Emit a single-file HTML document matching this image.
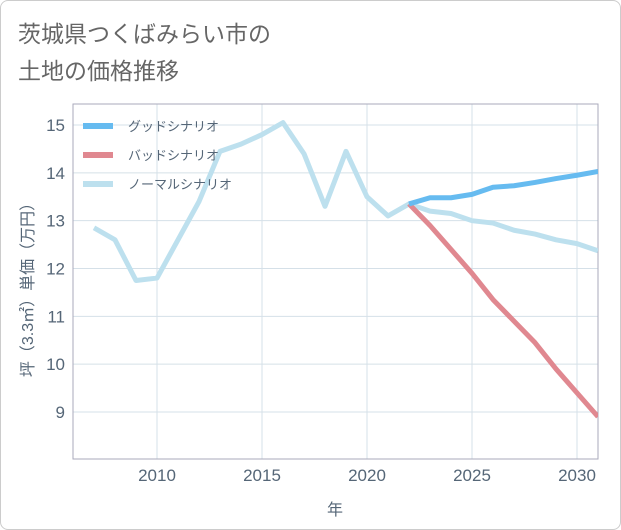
<!DOCTYPE html>
<html><head><meta charset="utf-8"><style>
body{margin:0;background:#fff;}
.wrap{position:relative;width:619px;height:528px;border:1px solid #ccc;border-radius:8px;background:#fff;overflow:hidden;}
text{font-family:"Liberation Sans","Noto Sans CJK JP",sans-serif;}
</style></head><body>
<div class="wrap">
<svg id="chart" width="621" height="530">
<text x="17" y="41" font-size="23" fill="#666">茨城県つくばみらい市の</text>
<text x="17" y="78" font-size="23" fill="#666">土地の価格推移</text>
<g id="grid"></g>
<g id="series"></g>
<g id="legend"></g>
</svg>
</div>
<script>
const years=[2007,2008,2009,2010,2011,2012,2013,2014,2015,2016,2017,2018,2019,2020,2021,2022,2023,2024,2025,2026,2027,2028,2029,2030,2031];
const normalValues=[12.85,12.6,11.75,11.8,12.6,13.4,14.45,14.6,14.8,15.05,14.4,13.3,14.45,13.5,13.1,13.35,13.2,13.15,13.0,12.95,12.8,12.72,12.6,12.52,12.37];
const goodYears=[2022,2023,2024,2025,2026,2027,2028,2029,2030,2031];
const goodValues=[13.35,13.48,13.48,13.55,13.7,13.73,13.8,13.88,13.95,14.03];
const badValues=[13.35,12.9,12.4,11.9,11.35,10.9,10.45,9.9,9.4,8.9];
const xTicks=[2010,2015,2020,2025,2030];
const yTicks=[9,10,11,12,13,14,15];
const NS='http://www.w3.org/2000/svg';
const L=72,R=597,T=103,B=458;
const TXT='#556677';
function xs(v){return 156+(v-2010)*21;}
function ys(v){return 411-(v-9)*47.83;}
function mk(tag,attrs,parent){const e=document.createElementNS(NS,tag);for(const k in attrs)e.setAttribute(k,attrs[k]);parent.appendChild(e);return e;}
const grid=document.getElementById('grid');
yTicks.forEach(t=>{
 const l=mk('line',{x1:L,x2:R,y1:ys(t),y2:ys(t),stroke:'#d5e0e8','stroke-width':1},grid);
 
 
 const tx=mk('text',{x:L-8,y:ys(t)+6,'text-anchor':'end','font-size':17,fill:TXT},grid);
 tx.textContent=t;
 
 
});
xTicks.forEach(t=>{
 const l=mk('line',{x1:xs(t),x2:xs(t),y1:T,y2:B,stroke:'#d5e0e8','stroke-width':1},grid);
 
 
 const tx=mk('text',{x:xs(t),y:B+22,'text-anchor':'middle','font-size':17,fill:TXT},grid);
 tx.textContent=t;
 
 
});
const frame=mk('rect',{x:L,y:T,width:R-L,height:B-T,fill:'none',stroke:'#aab','stroke-width':1},grid);


const xt=mk('text',{x:334,y:514,'text-anchor':'middle','font-size':16,fill:TXT},grid);
xt.textContent='年';


const yt=mk('text',{x:0,y:0,'text-anchor':'middle','font-size':16,fill:TXT,transform:'translate(32,285) rotate(-90)'},grid);
yt.textContent='坪（3.3㎡）単価（万円）';


const ser=document.getElementById('series');
const clip=mk('clipPath',{id:'clip'},ser);mk('rect',{x:L,y:T,width:R-L,height:B-T},clip);
function line(xv,yv,color,name){
 const d=xv.map((x,i)=>(i?'L':'M')+xs(x)+','+ys(yv[i])).join(' ');
 const p=mk('path',{d:d,fill:'none',stroke:color,'stroke-width':5,'stroke-linejoin':'round','clip-path':'url(#clip)'},ser);
 
 
}
line(years,normalValues,'#bde0ee','normal-scenario-line');
line(goodYears,badValues,'#e08890','bad-scenario-line');
line(goodYears,goodValues,'#66bbf0','good-scenario-line');
const leg=document.getElementById('legend');
[['グッドシナリオ','#66bbf0','legend-good'],['バッドシナリオ','#e08890','legend-bad'],['ノーマルシナリオ','#bde0ee','legend-normal']].forEach((e,i)=>{
 const y=125+i*29;
 const g=mk('g',{},leg);
 
 
 mk('rect',{x:82,y:y-3,width:30,height:6,fill:e[1]},g);
 const t=mk('text',{x:127,y:y+5,'font-size':13,fill:TXT},g);
 t.textContent=e[0];
});
</script>
</body></html>
